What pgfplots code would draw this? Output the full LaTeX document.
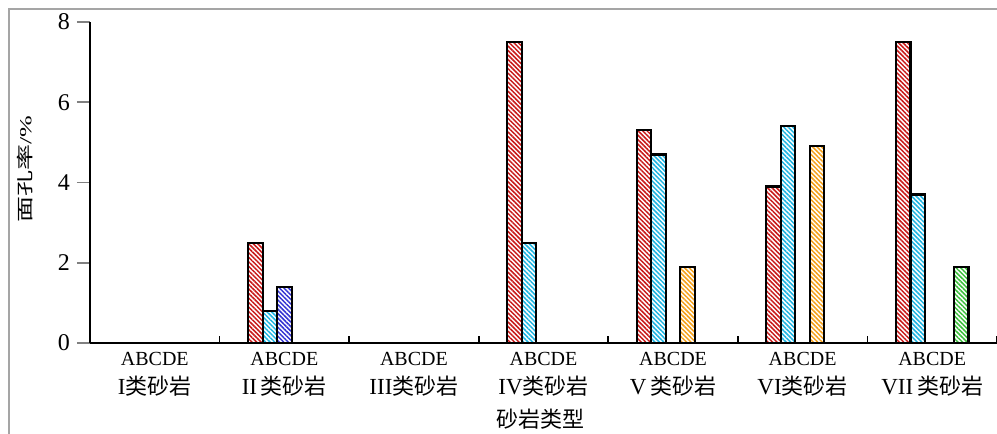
\documentclass[border=0pt]{standalone}
\usepackage{fontspec}
\setmainfont{Liberation Serif}
\newfontfamily\cjk{Noto Sans CJK SC}
\usepackage{pgfplots}
\pgfplotsset{compat=1.18}
\usetikzlibrary{patterns.meta}
\definecolor{cA}{RGB}{200,25,25}
\definecolor{cB}{RGB}{30,180,225}
\definecolor{cC}{RGB}{50,50,210}
\definecolor{cD}{RGB}{245,160,25}
\definecolor{cE}{RGB}{60,190,60}
\definecolor{frame}{RGB}{165,165,165}
\newcommand{\lab}[2]{ABCDE\\{\fontsize{11.5}{14.5}\selectfont #1{\fontsize{11}{14.5}\selectfont\cjk 类砂岩}}}
\pgfplotsset{hbar/.style={draw=black, line width=1.1pt, pattern={Lines[angle=-45,distance=1.6pt,line width=0.75pt]}, pattern color=#1}}
\begin{document}
\begin{tikzpicture}
\useasboundingbox (-45pt,-45.5pt) rectangle (453.5pt,171.5pt);
\draw[frame, line width=1pt] (-40.5pt,-46pt) -- (-40.5pt,167pt) -- (454pt,167pt);
\begin{axis}[
  at={(0,0)}, anchor=south west,
  scale only axis, width=453.5pt, height=160.5pt,
  xmin=0, xmax=7, ymin=0, ymax=8,
  axis lines=left, axis line style={line width=0.8pt, -},
  ybar, bar width=7.25pt,
  ytick={0,2,4,6,8},
  ytick style={line width=0.8pt}, ytick align=outside, major tick length=6.5pt,
  /pgf/number format/assume math mode=true,
  yticklabel style={font=\fontsize{12}{12}\selectfont},
  xtick={0.5,1.5,...,6.5},
  xtick style={draw=none},
  xticklabels={\lab{I}{},\lab{II\,}{},\lab{III}{},\lab{IV}{},\lab{V\,}{},\lab{VI}{},\lab{VII\,}{}},
  xticklabel style={align=center, font=\fontsize{10}{14.5}\selectfont, yshift=5.5pt},
  extra x ticks={1,2,3,4,5,6,7},
  extra x tick labels={},
  extra x tick style={xtick style={draw=black, line width=0.8pt}, tick align=inside, major tick length=3.5pt},
  clip=false,
]
\addplot[bar shift=-14.5pt, hbar=cA]
  coordinates {(1.5,2.5) (3.5,7.5) (4.5,5.3) (5.5,3.9) (6.5,7.5)};
\addplot[bar shift=-7.25pt, hbar=cB]
  coordinates {(1.5,0.8) (3.5,2.5) (4.5,4.7) (5.5,5.4) (6.5,3.7)};
\addplot[bar shift=0pt, hbar=cC]
  coordinates {(1.5,1.4)};
\addplot[bar shift=7.25pt, hbar=cD]
  coordinates {(4.5,1.9) (5.5,4.9)};
\addplot[bar shift=14.5pt, hbar=cE]
  coordinates {(6.5,1.9)};
\end{axis}
\node[rotate=90] at (-32.5pt,87pt) {\scalebox{1}[0.65]{\fontsize{13}{13}\selectfont{\cjk 面孔率}/\%}};
\node at (225pt,-38pt) {\fontsize{11}{11}\selectfont\cjk 砂岩类型};
\end{tikzpicture}
\end{document}
